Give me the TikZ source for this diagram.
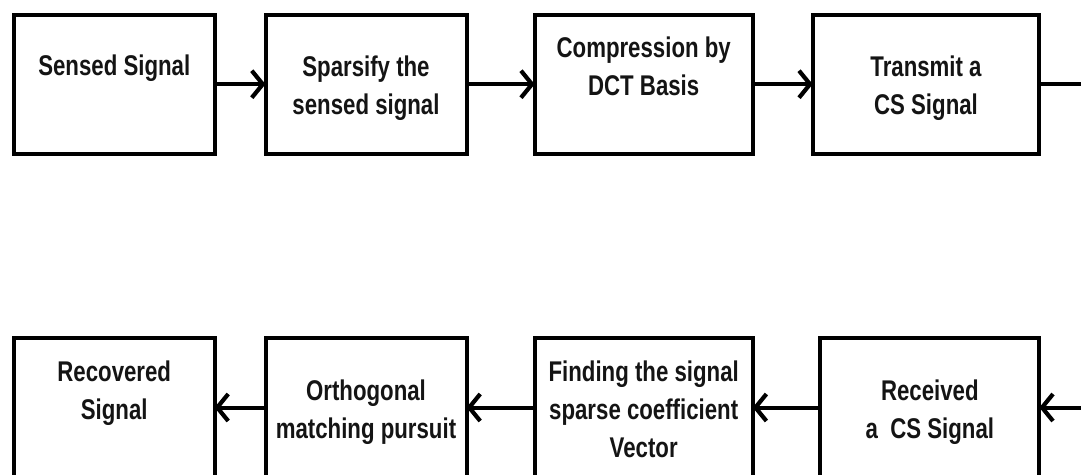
\documentclass[tikz,border=0pt]{standalone}
\usepackage{fontspec}
\setmainfont{Liberation Sans}[FakeStretch=0.78]
\usetikzlibrary{arrows.meta}
\begin{document}
\begin{tikzpicture}[x=1pt, y=-1pt,
  blk/.style={draw=black, line width=4pt, inner sep=0pt, outer sep=0pt},
  lbl/.style={font=\bfseries\fontsize{28.5}{38}\selectfont, text=black!92,
    align=center, inner sep=0pt, anchor=base},
  flow/.style={line width=4pt,
    -{Straight Barb[length=11pt, width=27pt, line width=4.2pt]}},
  link/.style={line width=4pt},
]
\useasboundingbox (0,0) rectangle (1081,474);

% transmitter chain (top row)
\node[blk, minimum width=200.5pt, minimum height=139pt] (t1) at (114.25,84.2) {};
\node[blk, minimum width=201pt,   minimum height=139pt] (t2) at (366,84.2) {};
\node[blk, minimum width=218pt,   minimum height=139pt] (t3) at (643.7,84.2) {};
\node[blk, minimum width=226.5pt, minimum height=139pt] (t4) at (926,84.2) {};

% labels are anchored on the baseline of their last line
\node[lbl] (t1l) at (114.25,75) {Sensed Signal};
\node[lbl] (t2l) at (366,114) {Sparsify the\\sensed signal};
\node[lbl] (t3l) at (643.7,95) {Compression by\\DCT Basis};
\node[lbl] (t4l) at (926,114) {Transmit a\\CS Signal};

% receiver chain (bottom row)
\node[blk, minimum width=200.5pt, minimum height=139pt] (u1) at (114.25,407.5) {};
\node[blk, minimum width=201pt,   minimum height=139pt] (u2) at (366,407.5) {};
\node[blk, minimum width=218pt,   minimum height=139pt] (u3) at (643.7,407.5) {};
\node[blk, minimum width=219pt,   minimum height=139pt] (u4) at (929.8,407.5) {};

\node[lbl] (u1l) at (114.25,419) {Recovered\\Signal};
\node[lbl] (u2l) at (366,438) {Orthogonal\\matching pursuit};
\node[lbl] (u3l) at (643.7,457) {Finding the signal\\sparse coefficient\\Vector};
\node[lbl] (u4l) at (929.8,438) {Received\\a~~CS Signal};

% channel ends at the right margin
\coordinate (txout) at (1081,84.2);
\coordinate (rxin)  at (1081,407.5);

% connectors
\draw[flow] (t1) -- (t2);
\draw[flow] (t2) -- (t3);
\draw[flow] (t3) -- (t4);
\draw[link] (t4.east) -- (txout);

\draw[flow] (rxin) -- (u4.east);
\draw[flow] (u4) -- (u3);
\draw[flow] (u3) -- (u2);
\draw[flow] (u2) -- (u1);
\end{tikzpicture}
\end{document}
